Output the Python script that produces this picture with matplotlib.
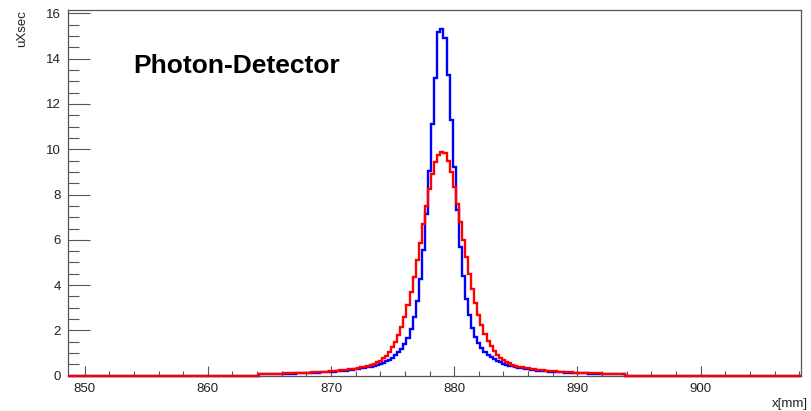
import numpy as np
import matplotlib
matplotlib.use("Agg")
import matplotlib.pyplot as plt
from matplotlib.ticker import MultipleLocator

plt.rcParams['font.family'] = ['Liberation Sans', 'DejaVu Sans']

# histogram binning (mm): 0.25 mm bins, centred on 879.0
bin_width = 0.25
core_lo, core_hi = 864.125, 893.875
x_lo, x_hi = 848.65, 908.15

# bin contents, left to right
blue = [
    0.063, 0.065, 0.068, 0.070, 0.073, 0.075, 0.078, 0.081, 0.084, 0.088,
    0.092, 0.095, 0.099, 0.104, 0.109, 0.113, 0.119, 0.125, 0.131, 0.137,
    0.144, 0.152, 0.160, 0.168, 0.178, 0.188, 0.200, 0.212, 0.225, 0.240,
    0.257, 0.275, 0.295, 0.32, 0.34, 0.37, 0.40, 0.44, 0.48, 0.52,
    0.58, 0.64, 0.71, 0.80, 0.90, 1.03, 1.19, 1.39, 1.67, 2.05,
    2.58, 3.30, 4.27, 5.55, 7.15, 9.04, 11.13, 13.16, 15.20,
    15.30,
    14.90, 13.30, 11.30, 9.20, 7.30, 5.70, 4.40, 3.40, 2.66, 2.11,
    1.72, 1.43, 1.22, 1.06, 0.92, 0.82, 0.73, 0.65, 0.59, 0.53,
    0.49, 0.45, 0.41, 0.38, 0.35, 0.325, 0.30, 0.28, 0.26, 0.245,
    0.228, 0.215, 0.202, 0.190, 0.180, 0.170, 0.161, 0.153, 0.145, 0.138,
    0.132, 0.126, 0.120, 0.114, 0.109, 0.104, 0.099, 0.095, 0.092, 0.088,
    0.084, 0.081, 0.078, 0.075, 0.073, 0.070, 0.068, 0.065, 0.063,
]
red = [
    0.075, 0.078, 0.080, 0.083, 0.086, 0.089, 0.093, 0.096, 0.100, 0.104,
    0.108, 0.112, 0.117, 0.122, 0.127, 0.133, 0.139, 0.146, 0.153, 0.160,
    0.168, 0.176, 0.185, 0.195, 0.206, 0.217, 0.230, 0.244, 0.259, 0.275,
    0.293, 0.313, 0.337, 0.364, 0.394, 0.43, 0.472, 0.524, 0.587, 0.666,
    0.765, 0.89, 1.05, 1.25, 1.49, 1.80, 2.17, 2.61, 3.12, 3.71,
    4.37, 5.10, 5.87, 6.68, 7.48, 8.23, 8.91, 9.44, 9.74,
    9.90,
    9.82, 9.50, 9.00, 8.33, 7.60, 6.80, 6.00, 5.22, 4.48, 3.81,
    3.21, 2.69, 2.24, 1.86, 1.54, 1.29, 1.08, 0.92, 0.79, 0.69,
    0.605, 0.54, 0.485, 0.44, 0.40, 0.37, 0.342, 0.318, 0.297, 0.279,
    0.262, 0.247, 0.233, 0.220, 0.208, 0.197, 0.187, 0.178, 0.169, 0.161,
    0.154, 0.147, 0.140, 0.134, 0.128, 0.122, 0.117, 0.112, 0.108, 0.104,
    0.100, 0.096, 0.093, 0.089, 0.086, 0.083, 0.080, 0.078, 0.075,
]

core_edges = np.arange(core_lo, core_hi + bin_width / 2, bin_width)
edges = np.concatenate([[x_lo], core_edges, [x_hi]])
blue_vals = np.concatenate([[0.0], blue, [0.0]])
red_vals = np.concatenate([[0.0], red, [0.0]])

fig = plt.figure(figsize=(8.11, 4.11), dpi=100)
ax = fig.add_axes([68 / 811, 35.3 / 411, 733 / 811, 365.7 / 411])

ax.stairs(blue_vals, edges, color='#0000ff', linewidth=1.7, clip_on=False, zorder=3)
ax.stairs(red_vals, edges, color='#ff0000', linewidth=1.7, clip_on=False, zorder=4)

ax.set_xlim(x_lo, x_hi)
ax.set_ylim(0, 16.15)

ax.xaxis.set_major_locator(MultipleLocator(10))
ax.xaxis.set_minor_locator(MultipleLocator(2))
ax.yaxis.set_major_locator(MultipleLocator(2))
ax.yaxis.set_minor_locator(MultipleLocator(0.5))

axis_col = '#555555'
for s in ax.spines.values():
    s.set_color(axis_col)
    s.set_linewidth(0.9)
ax.tick_params(axis='x', which='major', direction='in', length=7.2, width=0.8,
               color=axis_col, labelsize=9.5, pad=5, labelcolor='#222222')
ax.tick_params(axis='x', which='minor', direction='in', length=3.6, width=0.8, color=axis_col)
ax.tick_params(axis='y', which='major', direction='in', length=15.6, width=0.8,
               color=axis_col, labelsize=9.5, pad=5, labelcolor='#222222')
ax.tick_params(axis='y', which='minor', direction='in', length=7.7, width=0.8, color=axis_col)

fig.text(808 / 811, 1 - 404 / 411, 'x[mm]', ha='right', va='center',
         fontsize=9.5, color='#222222')
fig.text(22 / 811, 1 - 10 / 411, 'uXsec', ha='center', va='top', rotation=90,
         fontsize=9.5, color='#222222')
fig.text(133 / 811, 1 - 66 / 411, 'Photon-Detector', ha='left', va='center',
         fontsize=19, fontweight='bold', color='black')

fig.savefig('out.png', dpi=100)
